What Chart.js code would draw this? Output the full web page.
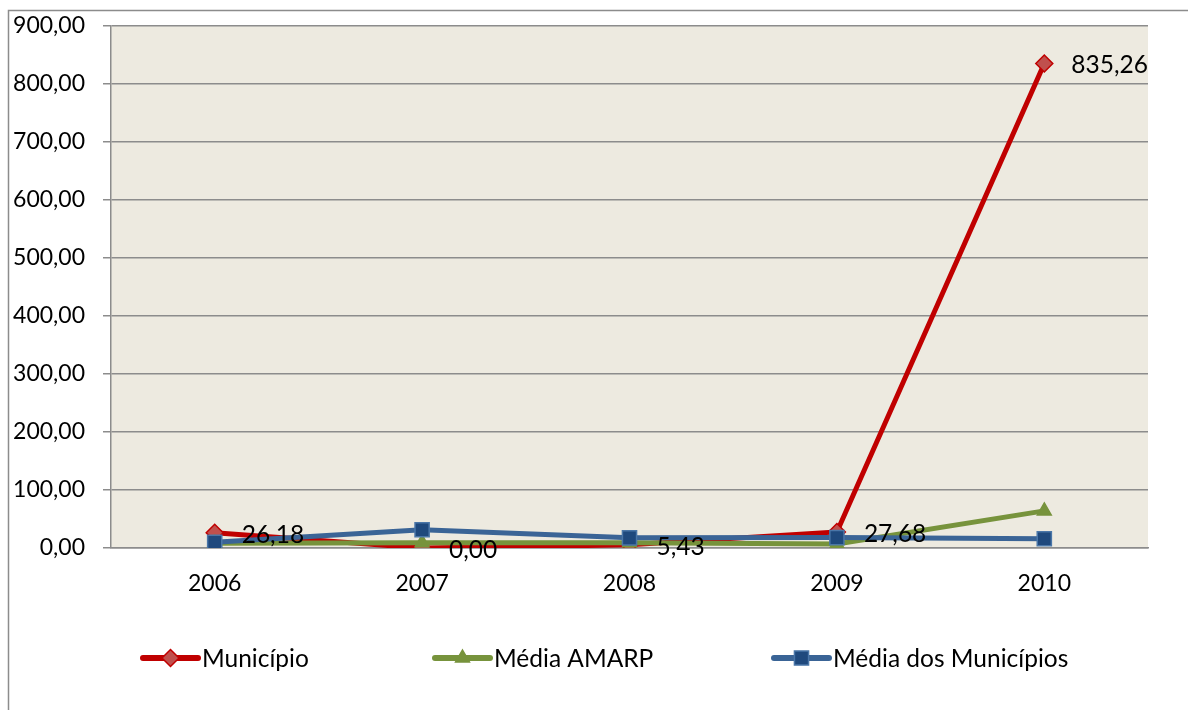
<!DOCTYPE html>
<html>
<head>
<meta charset="utf-8">
<script src="https://cdn.jsdelivr.net/npm/chart.js@4/dist/chart.umd.min.js"></script>
<style>
  html, body { margin: 0; padding: 0; background: #ffffff; }
  #wrap { position: relative; width: 1188px; height: 710px; }
</style>
</head>
<body>
<div id="wrap"><canvas id="c" width="1188" height="710"></canvas></div>
<script>
const categories = ['2006', '2007', '2008', '2009', '2010'];
const municipio = [26.18, 0.00, 5.43, 27.68, 835.26];
const mediaAmarp = [8, 9, 9, 7, 64];
const mediaMunicipios = [10, 31.5, 17.5, 18, 16];
const seriesNames = ['Município', 'Média AMARP', 'Média dos Municípios'];
const yTicks = [0, 100, 200, 300, 400, 500, 600, 700, 800, 900];

const FONT = 'Lato, "Open Sans", sans-serif';
const FS = 23;
const LFS = 24.5;

function fmt(v) { return v.toFixed(2).replace('.', ','); }

const styles = [
  { line: '#C00000', fill: '#C0504D', border: '#C00000', point: 'rectRot', r: 8.5 },
  { line: '#77933C', fill: '#77933C', border: '#77933C', point: 'triangle', r: 8 },
  { line: '#3A6496', fill: '#1F497D', border: '#4A76A8', point: 'rect', r: 10 }
];

const framePlugin = {
  id: 'frame',
  beforeDraw(chart) {
    const ctx = chart.ctx;
    ctx.save();
    ctx.strokeStyle = '#8c8c8c';
    ctx.lineWidth = 1.5;
    ctx.beginPath();
    ctx.moveTo(8.5, 710);
    ctx.lineTo(8.5, 10.5);
    ctx.lineTo(1188, 10.5);
    ctx.stroke();
    const a = chart.chartArea;
    ctx.fillStyle = '#EDEAE0';
    ctx.fillRect(a.left, a.top, a.right - a.left, a.bottom - a.top);
    ctx.restore();
  }
};

const labelPlugin = {
  id: 'dlabels',
  afterDatasetsDraw(chart) {
    const ctx = chart.ctx;
    const meta = chart.getDatasetMeta(0);
    ctx.save();
    ctx.font = LFS + 'px ' + FONT;
    ctx.fillStyle = '#000000';
    ctx.textAlign = 'left';
    ctx.textBaseline = 'middle';
    meta.data.forEach((pt, i) => {
      ctx.fillText(fmt(municipio[i]), pt.x + 27, pt.y + 2);
    });
    ctx.restore();
  }
};

function drawMarker(ctx, style, x, y) {
  Chart.helpers.drawPoint(ctx, { pointStyle: style.point, radius: style.r, borderWidth: 1.5, rotation: 0 }, x, y);
}

const legendPlugin = {
  id: 'customLegend',
  afterDraw(chart) {
    const ctx = chart.ctx;
    const starts = [143, 435, 774];
    const y = 658;
    ctx.save();
    ctx.font = LFS + 'px ' + FONT;
    ctx.textBaseline = 'middle';
    ctx.textAlign = 'left';
    seriesNames.forEach((name, i) => {
      const s = styles[i];
      const x0 = starts[i];
      ctx.strokeStyle = s.line;
      ctx.lineWidth = 6;
      ctx.lineCap = 'round';
      ctx.beginPath();
      ctx.moveTo(x0, y);
      ctx.lineTo(x0 + 55, y);
      ctx.stroke();
      ctx.fillStyle = s.fill;
      ctx.strokeStyle = s.border;
      ctx.lineWidth = 1.5;
      drawMarker(ctx, s, x0 + 27.5, y);
      ctx.fillStyle = '#000000';
      ctx.fillText(name, x0 + 59, y + 1);
    });
    ctx.restore();
  }
};

const dataSets = [municipio, mediaAmarp, mediaMunicipios].map((d, i) => ({
  label: seriesNames[i],
  data: d,
  borderColor: styles[i].line,
  backgroundColor: styles[i].fill,
  pointBackgroundColor: styles[i].fill,
  pointBorderColor: styles[i].border,
  pointBorderWidth: 1.5,
  pointStyle: styles[i].point,
  pointRadius: styles[i].r,
  pointHoverRadius: styles[i].r,
  borderWidth: 5,
  tension: 0,
  fill: false,
  order: 3 - i
}));

new Chart(document.getElementById('c'), {
  type: 'line',
  data: { labels: categories, datasets: dataSets },
  plugins: [framePlugin, labelPlugin, legendPlugin],
  options: {
    responsive: false,
    animation: false,
    devicePixelRatio: 1,
    layout: { padding: { left: 0, right: 40, top: 26, bottom: 102 } },
    plugins: {
      legend: { display: false },
      tooltip: { enabled: false },
      title: { display: false }
    },
    scales: {
      x: {
        type: 'category',
        offset: true,
        grid: { display: true, drawOnChartArea: false, drawTicks: false },
        border: { display: true, color: '#8c8c8c', width: 1.5 },
        ticks: { color: '#000', font: { family: FONT, size: FS }, padding: 22, maxRotation: 0 },
        afterFit(scale) { scale.height = 60; scale.paddingLeft = 0; scale.paddingRight = 0; }
      },
      y: {
        min: 0,
        max: 900,
        afterBuildTicks(scale) { scale.ticks = yTicks.map(v => ({ value: v })); },
        grid: { color: '#8c8c8c', lineWidth: 1.5, tickLength: 8, drawTicks: true },
        border: { display: true, color: '#8c8c8c', width: 1.5 },
        ticks: {
          color: '#000',
          font: { family: FONT, size: FS },
          padding: 18,
          callback: (v) => fmt(v)
        },
        afterFit(scale) { scale.width = 111; scale.paddingTop = 0; scale.paddingBottom = 0; }
      }
    }
  }
});
</script>
</body>
</html>
